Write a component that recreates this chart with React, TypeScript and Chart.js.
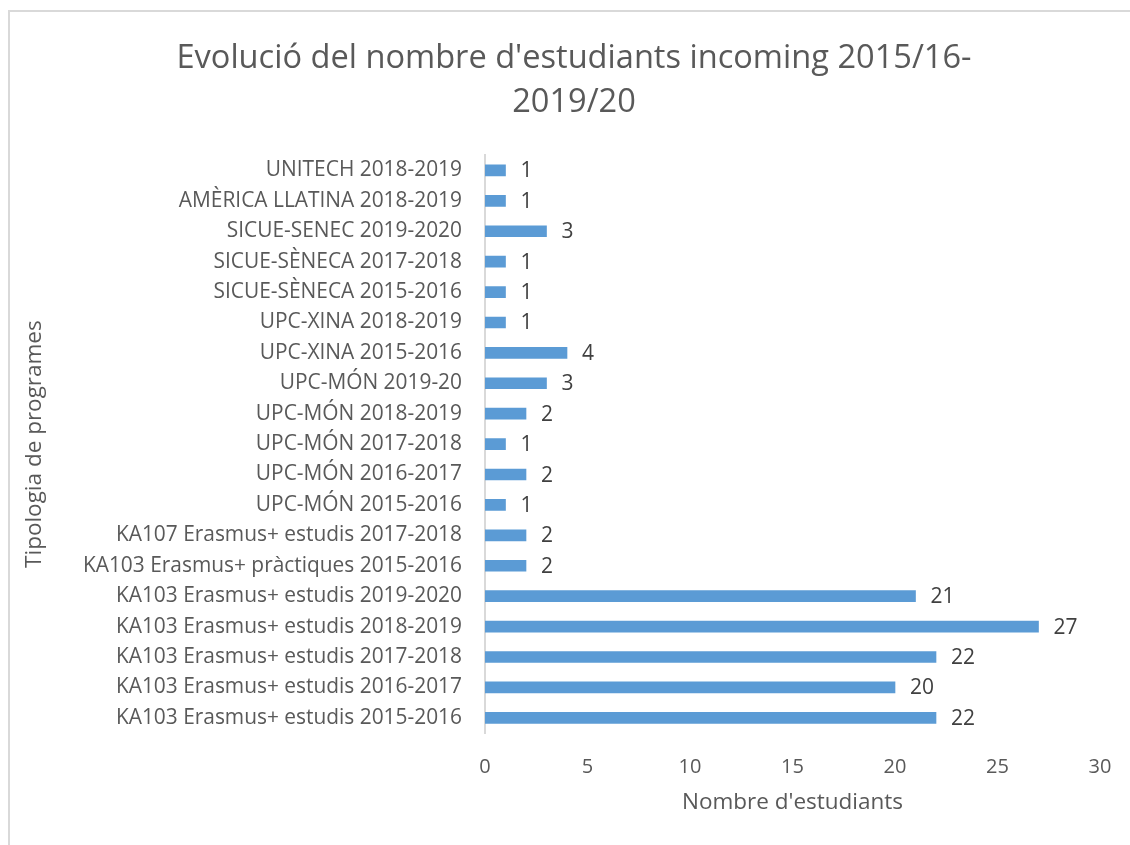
import React, { useEffect, useRef } from "react";
import { Chart, registerables } from "chart.js";

Chart.register(...registerables);

const categories = [
  "UNITECH 2018-2019",
  "AMÈRICA LLATINA 2018-2019",
  "SICUE-SENEC 2019-2020",
  "SICUE-SÈNECA 2017-2018",
  "SICUE-SÈNECA 2015-2016",
  "UPC-XINA 2018-2019",
  "UPC-XINA 2015-2016",
  "UPC-MÓN 2019-20",
  "UPC-MÓN 2018-2019",
  "UPC-MÓN 2017-2018",
  "UPC-MÓN 2016-2017",
  "UPC-MÓN 2015-2016",
  "KA107 Erasmus+ estudis 2017-2018",
  "KA103 Erasmus+ pràctiques 2015-2016",
  "KA103 Erasmus+ estudis 2019-2020",
  "KA103 Erasmus+ estudis 2018-2019",
  "KA103 Erasmus+ estudis 2017-2018",
  "KA103 Erasmus+ estudis 2016-2017",
  "KA103 Erasmus+ estudis 2015-2016",
];

const students = [1, 1, 3, 1, 1, 1, 4, 3, 2, 1, 2, 1, 2, 2, 21, 27, 22, 20, 22];

const titleLines = ["Evolució del nombre d'estudiants incoming 2015/16-", "2019/20"];
const xAxisTitle = "Nombre d'estudiants";
const yAxisTitle = "Tipologia de programes";

const FONT = "'Open Sans', sans-serif";

const valueLabels = {
  id: "valueLabels",
  afterDatasetsDraw(chart: any) {
    const ctx = chart.ctx;
    const meta = chart.getDatasetMeta(0);
    ctx.save();
    ctx.font = `21px ${FONT}`;
    ctx.fillStyle = "#404040";
    ctx.textAlign = "left";
    ctx.textBaseline = "middle";
    meta.data.forEach((bar: any, i: number) => {
      const v = chart.data.datasets[0].data[i];
      ctx.fillText(String(v), bar.x + 15, bar.y + 1);
    });
    ctx.restore();
  },
};

export default function App() {
  const ref = useRef<HTMLCanvasElement | null>(null);

  useEffect(() => {
    if (!ref.current) return;
    const chart = new Chart(ref.current, {
      type: "bar",
      data: {
        labels: categories,
        datasets: [
          {
            data: students,
            backgroundColor: "#5b9bd5",
            barThickness: 11,
          },
        ],
      },
      options: {
        indexAxis: "y",
        animation: false,
        responsive: false,
        maintainAspectRatio: false,
        layout: { padding: { top: 0, left: 38, right: 38, bottom: 0 } },
        plugins: {
          legend: { display: false },
          tooltip: { enabled: false },
          title: {
            display: true,
            text: titleLines,
            color: "#595959",
            font: { family: FONT, size: 32.6, weight: "normal", lineHeight: 1.33 },
            padding: { top: 25.5, bottom: 31 },
          },
        },
        scales: {
          x: {
            min: 0,
            max: 30,
            ticks: {
              stepSize: 5,
              color: "#595959",
              font: { family: FONT, size: 20 },
              padding: 22,
            },
            grid: { display: false, drawTicks: false },
            border: { display: false },
            title: {
              display: true,
              text: xAxisTitle,
              color: "#595959",
              font: { family: FONT, size: 22.5 },
              padding: { top: 0, bottom: 28.5 },
            },
            afterFit(scale: any) {
              scale.height = 112;
            },
          },
          y: {
            ticks: {
              color: "#595959",
              font: { family: FONT, size: 20.9 },
              padding: 23,
              autoSkip: false,
            },
            grid: { display: false, drawTicks: false },
            border: { display: true, color: "#d9d9d9", width: 2 },
            title: {
              display: true,
              text: yAxisTitle,
              color: "#595959",
              font: { family: FONT, size: 22.5 },
              padding: { top: -26.5, bottom: 0 },
            },
            afterFit(scale: any) {
              scale.width = 437;
            },
          },
        },
      },
      plugins: [valueLabels],
    });
    return () => chart.destroy();
  }, []);

  return (
    <div
      style={{
        position: "fixed",
        left: 0,
        top: 0,
        width: "100vw",
        height: "100vh",
        overflow: "hidden",
        background: "#fff",
      }}
    >
      <div
        style={{
          position: "absolute",
          left: 8,
          top: 10,
          width: 1128,
          height: 840,
          border: "2px solid #d9d9d9",
          background: "#fff",
        }}
      >
        <canvas ref={ref} width={1128} height={833} style={{ display: "block" }} />
      </div>
    </div>
  );
}
